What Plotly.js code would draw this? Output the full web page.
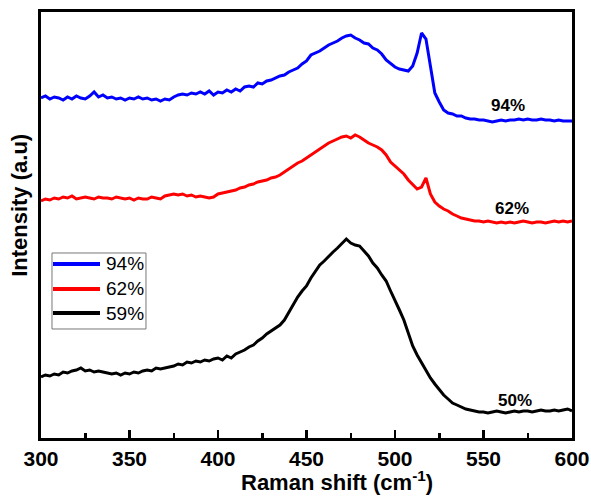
<!DOCTYPE html>
<html>
<head>
<meta charset="utf-8">
<script src="https://cdn.plot.ly/plotly-3.0.1.min.js"></script>
<style>html,body{margin:0;padding:0;background:#fff;}#chart{width:591px;height:499px;}</style>
</head>
<body>
<div id="chart"></div>
<script>
// Raman shift grid (cm-1)
const ramanShift = [300,302.5,305,307.5,310,312.5,315,317.5,320,322.5,325,327.5,330,332.5,335,337.5,340,342.5,345,347.5,350,352.5,355,357.5,360,362.5,365,367.5,370,372.5,375,377.5,380,382.5,385,387.5,390,392.5,395,397.5,400,402.5,405,407.5,410,412.5,415,417.5,420,422.5,425,427.5,430,432.5,435,437.5,440,442.5,445,447.5,450,452.5,455,457.5,460,462.5,465,467.5,470,472.5,475,477.5,480,482.5,485,487.5,490,492.5,495,497.5,500,502.5,505,507.5,510,512.5,515,517.5,520,522.5,525,527.5,530,532.5,535,537.5,540,542.5,545,547.5,550,552.5,555,557.5,560,562.5,565,567.5,570,572.5,575,577.5,580,582.5,585,587.5,590,592.5,595,597.5,600];

// Intensities (a.u., stacked offsets as in the figure)
const int94 = [340,342,339,341,340,338,341,339,342,340,339,342,346,341,343,340,341,339,340,338,340,339,341,339,340,338,339,337,339,338,341,343,344,343,345,344,346,344,347,343,346,345,348,346,349,347,351,352,351,355,354,357,358,360,362,363,366,368,370,374,377,383,385,387,390,393,395,397,400,402,403,400,398,395,394,390,388,384,378,374,371,369,368,367,372,385,405,399,372,345,336,328,325,324,322,322,320,319,319,318,318,317,316,317,318,317,318,318,319,318,319,318,318,319,318,318,317,318,317,317,317];

const int62 = [237,239,238,240,239,241,240,242,239,240,241,240,239,241,240,240,239,241,240,239,240,238,240,239,239,241,240,239,242,243,244,243,244,242,243,241,242,241,240,241,244,245,246,247,248,250,251,253,254,256,257,258,260,261,263,266,269,272,275,277,280,283,286,289,292,295,297,299,301,302,300,303,301,298,295,293,291,288,283,276,272,267,264,258,253,249,251,260,244,236,232,229,227,224,222,220,219,218,217,217,216,217,216,215,216,215,216,215,216,217,216,215,216,216,215,216,217,216,217,216,217];

const int59 = [61,63,62,64,63,66,65,67,68,70,67,68,66,67,66,65,64,65,63,65,64,66,65,67,68,67,70,69,70,71,72,74,73,76,75,77,76,78,77,79,80,78,82,80,84,86,88,91,93,97,100,104,107,110,113,118,126,134,141,147,152,160,166,173,177,182,186,190,194,199,195,193,192,187,182,175,170,163,157,147,138,128,118,106,92,83,75,68,60,54,48,43,39,35,33,31,29,28,27,26,26,25,26,27,26,25,26,27,26,27,27,26,27,28,27,27,28,27,28,29,27];

const seriesNames = ['94%','62%','59%'];
const seriesColors = ['#0000ff','#ff0000','#000000'];
const curveLabels = ['94%','62%','50%'];
const labelX = [564,566,568];
const labelY = [333,230,38];
const xTicks = [300,350,400,450,500,550,600];

const font = 'Arial, "Liberation Sans", sans-serif';
const ys = [int94, int62, int59];

const traces = ys.map((y,i)=>({
  x: ramanShift, y: y, type:'scatter', mode:'lines', name: seriesNames[i],
  line:{color: seriesColors[i], width:3}, showlegend:false
}));

const annotations = curveLabels.map((t,i)=>({
  x: labelX[i], y: labelY[i], xref:'x', yref:'y', text:'<b>'+t+'</b>', showarrow:false,
  font:{family:font, size:17, color:'#000'}, xanchor:'center', yanchor:'middle'
}));
annotations.push({
  x:0.5575, y:-0.101, xref:'paper', yref:'paper', showarrow:false,
  text:'<b>Raman shift (cm<sup>-1</sup>)</b>', font:{family:font, size:22, color:'#000'},
  xanchor:'center', yanchor:'middle'
});
annotations.push({
  x:-0.0395, y:0.545, xref:'paper', yref:'paper', showarrow:false, textangle:-90,
  text:'<b>Intensity (a.u)</b>', font:{family:font, size:22, color:'#000'},
  xanchor:'center', yanchor:'middle'
});

// Legend (box, line samples, labels) in paper coordinates
const legBox = {x0:0.0207, x1:0.1977, y0:0.2559, y1:0.4343};
const legLineX = [0.0226, 0.1111];
const legRowY = [0.4085, 0.3498, 0.2934];
const shapes = [{type:'rect', xref:'paper', yref:'paper', x0:legBox.x0, x1:legBox.x1, y0:legBox.y0, y1:legBox.y1,
  line:{color:'#777', width:1}, fillcolor:'#fff', layer:'above'}];
seriesNames.forEach((n,i)=>{
  shapes.push({type:'line', xref:'paper', yref:'paper', x0:legLineX[0], x1:legLineX[1], y0:legRowY[i], y1:legRowY[i],
    line:{color:seriesColors[i], width:4}, layer:'above'});
  annotations.push({x:0.1186, y:legRowY[i], xref:'paper', yref:'paper', text:n, showarrow:false,
    xanchor:'left', yanchor:'middle', font:{family:font, size:19, color:'#000'}});
});

const layout = {
  width:591, height:499,
  margin:{l:41, r:19, t:12, b:61},
  paper_bgcolor:'#fff', plot_bgcolor:'#fff',
  showlegend:false,
  xaxis:{range:[300,600], showgrid:false, zeroline:false, showline:true, linecolor:'#000', linewidth:3,
    mirror:true, ticks:'inside', ticklen:8, tickwidth:2.5, tickcolor:'#000',
    tickvals:xTicks, ticktext:xTicks.map(String),
    tickfont:{family:font, size:21, color:'#000', weight:'bold'},
    minor:{ticks:'inside', ticklen:5, tickwidth:2.5, tickcolor:'#000', dtick:25, showgrid:false}},
  yaxis:{range:[0,426], showgrid:false, zeroline:false, showline:true, linecolor:'#000', linewidth:3,
    mirror:true, ticks:'', showticklabels:false},
  shapes: shapes,
  annotations: annotations
};

Plotly.newPlot('chart', traces, layout, {displayModeBar:false, staticPlot:true});
</script>
</body>
</html>
